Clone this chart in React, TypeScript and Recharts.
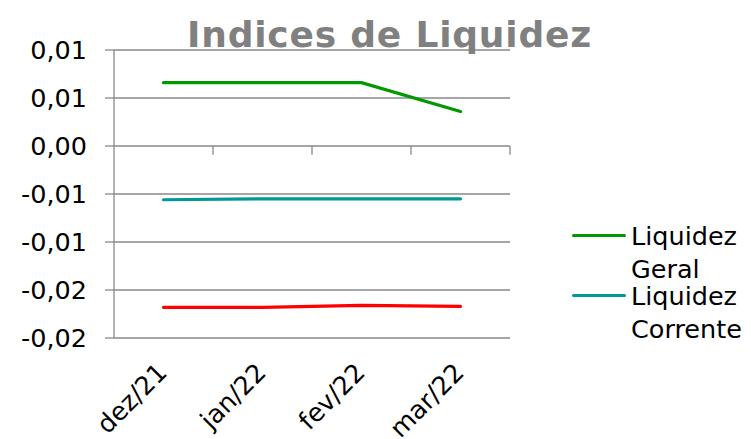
import { CartesianGrid, Legend, Line, LineChart, ReferenceLine, XAxis, YAxis } from "recharts"

const months = ['dez/21', 'jan/22', 'fev/22', 'mar/22']
const liquidezGeral = [0.0066, 0.0066, 0.0066, 0.0036]
const liquidezCorrente = [-0.0056, -0.0055, -0.0055, -0.0055]
const liquidezImediata = [-0.0168, -0.0168, -0.0166, -0.0167]

const yTicks = [-0.02, -0.015, -0.01, -0.005, 0, 0.005, 0.01]
const yTickLabels = ['-0,02', '-0,02', '-0,01', '-0,01', '0,00', '0,01', '0,01']
const legendNames = ['Liquidez Geral', 'Liquidez Corrente']

const FONT = '"DejaVu Sans", Verdana, sans-serif'
const GRID = '#898989'

const data = months.map((m, i) => ({
  month: m,
  geral: liquidezGeral[i],
  corrente: liquidezCorrente[i],
  imediata: liquidezImediata[i],
}))

function MonthTick({ x, y, payload }: any) {
  const ax = x + 5
  const ay = y + 36
  return (
    <text
      x={ax}
      y={ay}
      transform={`rotate(-45, ${ax}, ${ay})`}
      textAnchor="end"
      fontSize={25.5}
      fontFamily={FONT}
      fill="#000"
    >
      {payload.value}
    </text>
  )
}

function LegendBox({ payload }: any) {
  const items = (payload || [])
    .filter((e: any) => legendNames.includes(e.value))
    .sort((a: any, b: any) => legendNames.indexOf(a.value) - legendNames.indexOf(b.value))
  return (
    <div style={{ fontFamily: FONT, fontSize: 25.5 }}>
      {items.map((entry: any) => (
        <div key={entry.value} style={{ display: 'flex', height: 60 }}>
          <div style={{ width: 60, position: 'relative' }}>
            <div
              style={{
                position: 'absolute',
                left: 1,
                top: 14,
                width: 54,
                height: 3,
                borderRadius: 2,
                background: entry.color,
              }}
            />
          </div>
          <div style={{ width: 115, lineHeight: '32.5px', color: '#000' }}>{entry.value}</div>
        </div>
      ))}
    </div>
  )
}

export default function App() {
  return (
    <div style={{ position: 'absolute', left: 0, top: 0, width: 751, height: 439, background: '#fff' }}>
      <LineChart
        width={751}
        height={439}
        data={data}
        margin={{ top: 50, right: 61, bottom: 0, left: 0 }}
      >
        <CartesianGrid horizontal vertical={false} stroke={GRID} strokeWidth={1.3} />
        <XAxis
          dataKey="month"
          scale="band"
          axisLine={false}
          tickLine={false}
          tickSize={0}
          tickMargin={0}
          height={101}
          interval={0}
          tick={<MonthTick />}
        />
        <YAxis
          width={114}
          domain={[-0.02, 0.01]}
          ticks={yTicks}
          allowDataOverflow
          interval={0}
          tickFormatter={(v: number) => yTickLabels[yTicks.indexOf(v)]}
          axisLine={{ stroke: GRID, strokeWidth: 1.3 }}
          tickLine={{ stroke: GRID, strokeWidth: 1.3 }}
          tickSize={9}
          tickMargin={18}
          tick={{ fontSize: 25.5, fontFamily: FONT, fill: '#000' }}
        />
        {months.map((m) => (
          <ReferenceLine
            key={m}
            position="end"
            segment={[{ x: m, y: 0 }, { x: m, y: -0.0009 }]}
            stroke={GRID}
            strokeWidth={1.3}
          />
        ))}
        <Legend
          layout="vertical"
          verticalAlign="top"
          align="right"
          content={<LegendBox />}
          wrapperStyle={{ left: 571, top: 220, width: 180 }}
        />
        <Line
          dataKey="geral"
          name="Liquidez Geral"
          stroke="#009900"
          strokeWidth={3.2}
          strokeLinecap="round"
          dot={false}
          isAnimationActive={false}
        />
        <Line
          dataKey="corrente"
          name="Liquidez Corrente"
          stroke="#009999"
          strokeWidth={3.2}
          strokeLinecap="round"
          dot={false}
          isAnimationActive={false}
        />
        <Line
          dataKey="imediata"
          name="Liquidez Imediata"
          stroke="#ff0000"
          strokeWidth={3.2}
          strokeLinecap="round"
          dot={false}
          legendType="none"
          isAnimationActive={false}
        />
      </LineChart>
      <svg
        width={751}
        height={439}
        style={{ position: 'absolute', left: 0, top: 0, pointerEvents: 'none' }}
      >
        <text
          x={389.5}
          y={47}
          textAnchor="middle"
          fontSize={36}
          fontWeight="bold"
          letterSpacing={0.8}
          fontFamily={FONT}
          fill="#808080"
        >
          Indices de Liquidez
        </text>
      </svg>
    </div>
  )
}
